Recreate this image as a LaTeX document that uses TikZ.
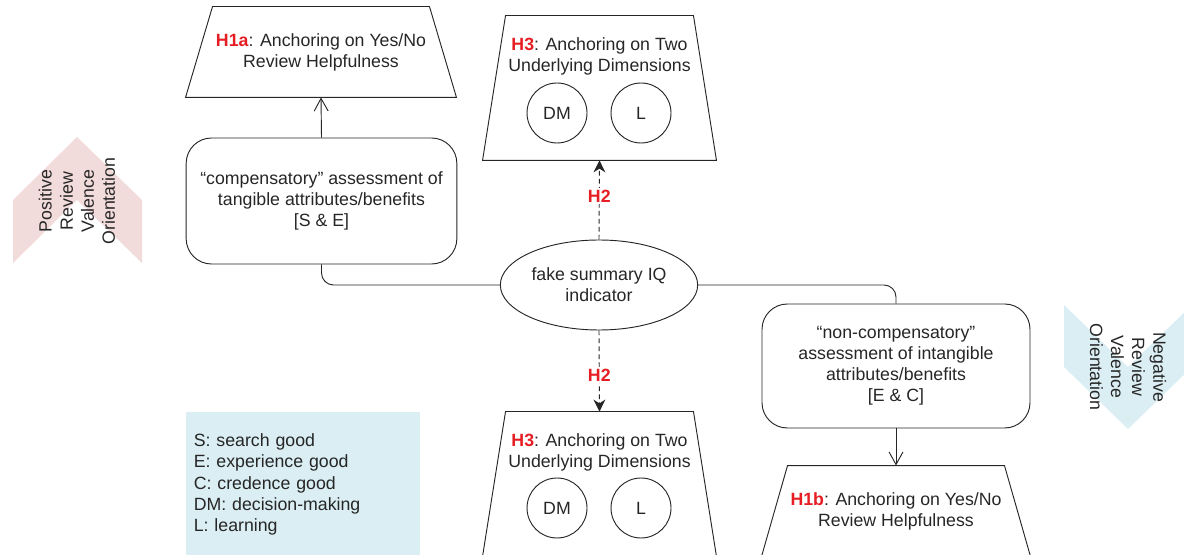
\documentclass[tikz,border=0pt]{standalone}
\usepackage{fontspec}
\setmainfont{Liberation Sans}
\usepackage{tikz}
\usepackage{xcolor}
\usetikzlibrary{positioning}
\usetikzlibrary{shapes,arrows.meta}

\definecolor{hred}{RGB}{230,30,36}
\definecolor{pinkbg}{RGB}{242,220,219}
\definecolor{bluebg}{RGB}{218,238,243}
\definecolor{ink}{RGB}{38,38,38}

\newcommand{\hyp}[1]{\textcolor{hred}{\textbf{#1}}}
\newcommand{\trapline}[2]{\draw (#1.south west) -- ([xshift=#2]#1.north west) -- ([xshift=-#2]#1.north east) -- (#1.south east) -- cycle;}

\tikzset{
  box/.style={draw=ink, rounded corners=19pt, align=center, minimum width=203pt, minimum height=94.5pt, inner sep=0pt},
  trap/.style={rectangle, align=center, inner sep=0pt},
  dim/.style={draw=ink, circle, minimum size=45pt, inner sep=0pt},
  openarrow/.style={-{Straight Barb[length=9.5pt,width=10.5pt]}},
  dasharrow/.style={dash pattern=on 3.5pt off 2.5pt, -{Stealth[length=9pt,width=9pt]}},
  hlabel/.style={fill=white, inner sep=1.5pt, font=\fontsize{13.3pt}{15.8pt}\selectfont\bfseries, text=hred},
}

\begin{document}
\begin{tikzpicture}[x=0.75pt, y=-0.75pt, font=\fontsize{13.3pt}{15.8pt}\selectfont, color=ink, line width=0.7pt]
    \useasboundingbox (0,0) rectangle (1184,555);
    \clip (0,0) rectangle (1184,555);

    \fill[pinkbg] (13,200) -- (77,137) -- (142,200) -- (142,263) -- (77,200) -- (13,263) -- cycle;
    \fill[bluebg] (1064,305) -- (1128,367) -- (1192,305) -- (1192,367) -- (1128,429) -- (1064,367) -- cycle;
    \node(pos) [rotate=90, align=center] at (77,201) {Positive\\Review\\Valence\\Orientation};
    \node(neg) [rotate=-90, align=center] at (1128,367) {Negative\\Review\\Valence\\Orientation};

    \node(fake) [ellipse, draw, minimum width=148pt, minimum height=67.5pt, inner sep=0pt, align=center] at (599,285) {fake summary IQ\\indicator};
    \node(comp) [box] at (321.5,201) {“compensatory” assessment of\\tangible attributes/benefits\\{[}S \& E{]}};
    \node(noncomp) [box, minimum width=201pt, minimum height=93pt] at (896,366) {“non-compensatory”\\assessment of intangible\\attributes/benefits\\{[}E \& C{]}};

    \node(h1a) [trap, minimum width=202.5pt, minimum height=67.5pt] at (321,52) {\hyp{H1a}: Anchoring on Yes/No\\Review Helpfulness};
    \trapline{h1a}{20.25pt}
    \node(h1b) [trap, minimum width=201pt, minimum height=67.5pt] at (896,511) {\hyp{H1b}: Anchoring on Yes/No\\Review Helpfulness};
    \trapline{h1b}{19.5pt}

    \node(h3top) [trap, minimum width=174.75pt, minimum height=108pt] at (599.5,88) {};
    \trapline{h3top}{17.25pt}
    \node(h3toptext) [align=center] at (599.5,56.5) {\hyp{H3}: Anchoring on Two\\Underlying Dimensions};
    \node(dmtop) [dim] at (557,113) {DM};
    \node(ltop) [dim] at (641,113) {L};

    \node(h3bot) [trap, minimum width=174.75pt, minimum height=108pt] at (599.5,484) {};
    \trapline{h3bot}{17.25pt}
    \node(h3bottext) [align=center] at (599.5,452) {\hyp{H3}: Anchoring on Two\\Underlying Dimensions};
    \node(dmbot) [dim] at (557,508) {DM};
    \node(lbot) [dim] at (641,508) {L};

    \node(legend) [fill=bluebg, text width=164.5pt, inner xsep=5.5pt, inner ysep=0pt, minimum height=108pt, align=left, anchor=north west] at (186,412) {S: search good\\E: experience good\\C: credence good\\DM: decision-making\\L: learning};

    \draw [openarrow] (comp.north) -- (h1a.south);
    \draw [openarrow] (noncomp.south) -- (h1b.north);
    \draw [dasharrow] (fake.north) -- node[hlabel, pos=0.55] {H2} (h3top.south);
    \draw [dasharrow] (fake.south) -- node[hlabel, pos=0.55] {H2} (h3bot.north);
    \draw [rounded corners=9pt] (comp.south) |- (fake.west);
    \draw [rounded corners=9pt] (fake.east) -| (noncomp.north);
  \end{tikzpicture}
\end{document}
